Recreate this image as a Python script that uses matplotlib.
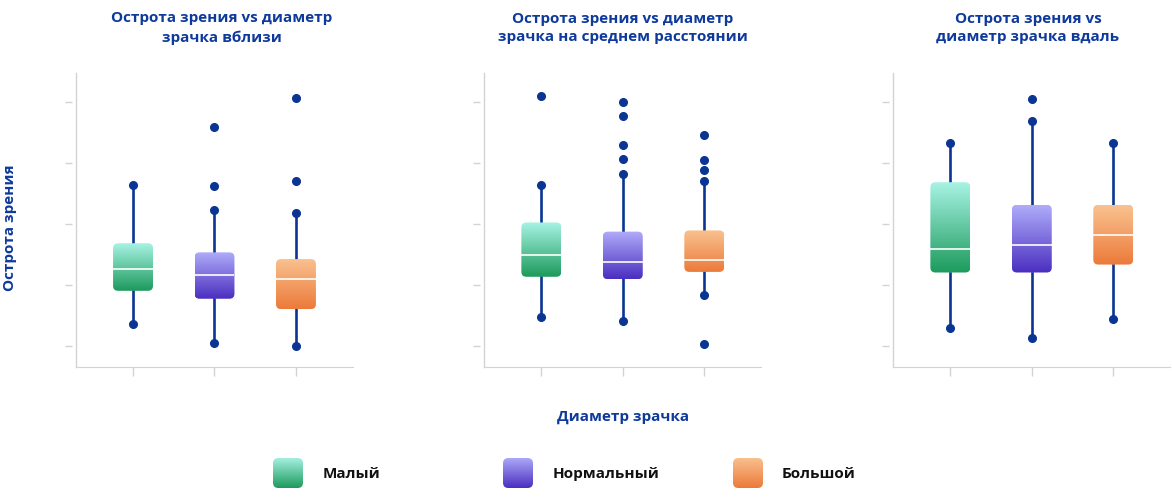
import matplotlib
matplotlib.use('Agg')
import matplotlib.pyplot as plt
import numpy as np
from matplotlib.patches import FancyBboxPatch
from matplotlib.colors import LinearSegmentedColormap

plt.rcParams['font.family'] = ['Open Sans', 'DejaVu Sans']

categories = ['Малый', 'Нормальный', 'Большой']
titles = ['Острота зрения vs диаметр\nзрачка вблизи',
          'Острота зрения vs диаметр\nзрачка на среднем расстоянии',
          'Острота зрения vs\nдиаметр зрачка вдаль']

# Near
near_whislo = [0.36, 0.05, 0.00]
near_q1 = [0.91, 0.78, 0.61]
near_med = [1.26, 1.17, 1.10]
near_q3 = [1.69, 1.54, 1.43]
near_whishi = [2.64, 2.23, 2.19]
near_fliers = [[], [2.63, 3.60], [2.71, 4.07]]

# Intermediate
mid_whislo = [0.48, 0.42, 0.84]
mid_q1 = [1.14, 1.10, 1.22]
mid_med = [1.50, 1.39, 1.41]
mid_q3 = [2.03, 1.88, 1.90]
mid_whishi = [2.64, 2.82, 2.71]
mid_fliers = [[4.10], [3.07, 3.30, 3.78, 4.01], [0.04, 2.89, 3.05, 3.46]]

# Far
far_whislo = [0.30, 0.14, 0.45]
far_q1 = [1.21, 1.21, 1.34]
far_med = [1.60, 1.66, 1.83]
far_q3 = [2.69, 2.32, 2.32]
far_whishi = [3.34, 3.69, 3.34]
far_fliers = [[], [4.05], []]

panels = [
    (near_whislo, near_q1, near_med, near_q3, near_whishi, near_fliers),
    (mid_whislo, mid_q1, mid_med, mid_q3, mid_whishi, mid_fliers),
    (far_whislo, far_q1, far_med, far_q3, far_whishi, far_fliers),
]

grad_bottom = ['#1c9a5c', '#4a2ec0', '#ec7a3a']
grad_top = ['#a8f3e4', '#b0acf9', '#f9c290']
dark_blue = '#0b3592'
title_color = '#0e3a9c'
spine_color = '#d3d3d3'

W, H = 1172, 499
fig = plt.figure(figsize=(W / 100, H / 100), dpi=100)

axes_left = [76, 484.3, 893.3]
ax_w = 277
ax_top, ax_bottom = 72.7, 366.7
box_w = 0.49
xlim = (-0.7, 2.7)
ylim = (-0.334, 4.485)
px_per_x = 81.0
px_per_y = 61.0


def gradient_cmap(i):
    return LinearSegmentedColormap.from_list('g%d' % i, [grad_bottom[i], grad_top[i]])


grad = np.linspace(0, 1, 256).reshape(-1, 1)

for p, (wl, q1, med, q3, wh, fl) in enumerate(panels):
    ax = fig.add_axes([axes_left[p] / W, 1 - ax_bottom / H, ax_w / W, (ax_bottom - ax_top) / H])
    stats = []
    for i in range(3):
        stats.append(dict(whislo=wl[i], q1=q1[i], med=med[i], q3=q3[i], whishi=wh[i],
                          fliers=np.array(fl[i]), label=categories[i]))
    positions = np.arange(3)
    ax.bxp(stats, positions=positions, widths=box_w, patch_artist=True, showcaps=False,
           boxprops=dict(facecolor='none', edgecolor='none'),
           whiskerprops=dict(color=dark_blue, linewidth=1.9, zorder=2),
           medianprops=dict(color='white', linewidth=1.2, zorder=6),
           flierprops=dict(marker='o', markerfacecolor=dark_blue, markeredgecolor=dark_blue,
                           markersize=5.5, zorder=4))
    ax.plot(positions, wl, 'o', color=dark_blue, markersize=5.5, zorder=4)
    ax.plot(positions, wh, 'o', color=dark_blue, markersize=5.5, zorder=4)
    for i in range(3):
        x0 = positions[i] - box_w / 2
        patch = FancyBboxPatch((x0, q1[i]), box_w, q3[i] - q1[i],
                               boxstyle='round,pad=0,rounding_size=%f' % (5 / px_per_x),
                               mutation_aspect=px_per_x / px_per_y,
                               facecolor='none', edgecolor='none')
        ax.add_patch(patch)
        im = ax.imshow(grad, cmap=gradient_cmap(i), origin='lower', aspect='auto',
                       extent=(x0, x0 + box_w, q1[i], q3[i]), interpolation='bicubic', zorder=3)
        im.set_clip_path(patch)
    ax.set_xlim(*xlim)
    ax.set_ylim(*ylim)
    ax.set_xticks(positions)
    ax.set_xticklabels([])
    ax.set_yticks([0, 1, 2, 3, 4])
    ax.set_yticklabels([])
    for s in ['top', 'right']:
        ax.spines[s].set_visible(False)
    ax.spines['bottom'].set_color(spine_color)
    ax.spines['left'].set_visible(False)
    ax.spines['left'].set_position(('outward', 3))
    ax.plot([0, 0], [0, 1], transform=ax.transAxes, color=spine_color, linewidth=1, clip_on=False)
    ax.tick_params(axis='y', length=5, width=1, color=spine_color)
    ax.tick_params(axis='x', length=6.5, width=1, color=spine_color)
    ax.set_facecolor('none')

# titles
title_x = [222, 623, 1028]
for p in range(3):
    fig.text(title_x[p] / W, 1 - 28 / H, titles[p], ha='center', va='center', fontsize=11,
             fontweight='bold', color=title_color, linespacing=1.45)

fig.text(10 / W, 1 - 228 / H, 'Острота зрения', rotation=90, ha='center', va='center',
         fontsize=11, fontweight='bold', color=title_color)
fig.text(623 / W, 1 - 417 / H, 'Диаметр зрачка', ha='center', va='center',
         fontsize=11, fontweight='bold', color=title_color)

# legend
sw_x = [273, 503, 733]
txt_x = [323, 553, 782]
for i in range(3):
    lax = fig.add_axes([sw_x[i] / W, 1 - 488 / H, 30 / W, 30 / H])
    lax.axis('off')
    patch = FancyBboxPatch((0, 0), 1, 1, boxstyle='round,pad=0,rounding_size=0.18',
                           transform=lax.transAxes, facecolor='none', edgecolor='none')
    lax.add_patch(patch)
    im = lax.imshow(grad, cmap=gradient_cmap(i), origin='lower', aspect='auto',
                    extent=(0, 1, 0, 1), interpolation='bicubic')
    im.set_clip_path(patch)
    lax.set_xlim(0, 1)
    lax.set_ylim(0, 1)
    fig.text(txt_x[i] / W, 1 - 474 / H, categories[i], ha='left', va='center', fontsize=11,
             fontweight='bold', color='#111111')

fig.savefig('out.png', dpi=100)
